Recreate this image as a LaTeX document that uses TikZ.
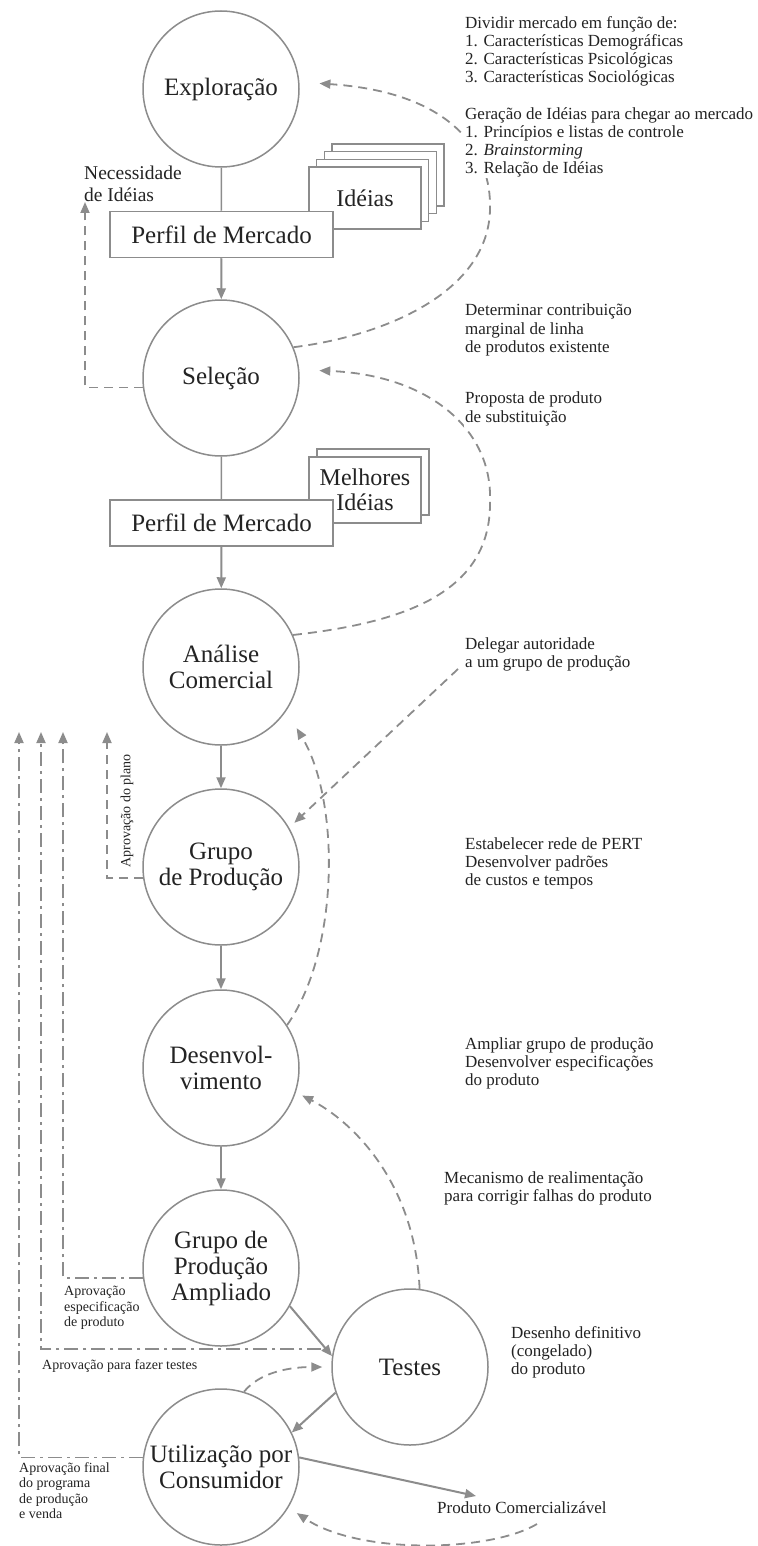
\documentclass[tikz,border=0pt]{standalone}
\usepackage{fontspec}
\setmainfont{Liberation Serif}
\usetikzlibrary{arrows.meta}
\definecolor{ln}{RGB}{140,140,140}
\definecolor{tx}{RGB}{35,35,35}
\begin{document}
\begin{tikzpicture}[x=1pt,y=-1pt,
  stage/.style={circle, draw=ln, line width=1.5pt, minimum size=156pt, inner sep=0pt, align=center, font=\fontsize{25}{26}\selectfont, text=tx, fill=white},
  pbox/.style={draw=ln, line width=1.5pt, fill=white, minimum width=223pt, minimum height=46pt, inner sep=0pt, font=\fontsize{25}{26}\selectfont, text=tx},
  card/.style={draw=ln, line width=1.5pt, fill=white, minimum width=112pt, minimum height=62pt, inner sep=0pt, align=center, font=\fontsize{24}{25}\selectfont, text=tx},
  arr/.style={draw=ln, line width=2pt, -{Triangle[length=11pt,width=9pt]}},
  link/.style={draw=ln, line width=1.5pt},
  dasharr/.style={draw=ln, line width=1.8pt, dash pattern=on 9pt off 6pt, -{Triangle[length=11pt,width=9pt]}},
  ddarr/.style={draw=ln, line width=1.8pt, dash pattern=on 14pt off 5pt on 3pt off 5pt, -{Triangle[length=11pt,width=9pt]}},
  note/.style={align=left, anchor=north west, inner sep=1pt, fill=white, text=tx, font=\fontsize{17}{18.2}\selectfont},
  small/.style={align=left, anchor=north west, inner sep=0pt, text=tx, font=\fontsize{14}{15.5}\selectfont},
]
\useasboundingbox (0,0) rectangle (757,1546);

% stages
\node[stage] (explo) at (221,89) {Exploração};
\node[stage] (selec) at (221,378) {Seleção};
\node[stage] (anal) at (221,667) {Análise\\Comercial};
\node[stage] (grupo) at (221,867) {Grupo\\de Produção};
\node[stage] (desenv) at (221,1068) {Desenvol-\\vimento};
\node[stage] (gampl) at (221,1268) {Grupo de\\Produção\\Ampliado};
\node[stage] (testes) at (410,1367) {Testes};
\node[stage] (util) at (221,1467) {Utilização por\\Consumidor};

% idea cards
\node[card] (c3) at (388.1,175) {};
\node[card] (c2) at (380.4,182.7) {};
\node[card] (c1) at (372.7,190.4) {};
\node[card] (ideias) at (365,198) {Idéias};
\node[pbox] (perf1) at (221.5,234.5) {Perfil de Mercado};

\node[card, minimum height=66pt] (m1) at (373,482) {};
\node[card, minimum height=66pt, font=\fontsize{24}{25}\selectfont] (melh) at (365,490) {Melhores\\Idéias};
\node[pbox] (perf2) at (221.5,523) {Perfil de Mercado};

% main flow
\draw[link] (explo) -- (perf1);
\draw[arr] (perf1) -- (selec);
\draw[link] (selec) -- (perf2);
\draw[arr] (perf2) -- (anal);
\draw[arr] (anal) -- (grupo);
\draw[arr] (grupo) -- (desenv);
\draw[arr] (desenv) -- (gampl);
\draw[arr] (gampl.-29) -- (testes.172);
\draw[arr] (testes.199) -- (util.26);
\coordinate (pc) at (476,1496);
\draw[arr] (util.7) -- (pc);

% dashed feedback curves
\draw[dasharr, shorten >=20pt] (selec.23) .. controls (390,335) and (488,290) .. (490,210) .. controls (492,150) and (450,92) .. (explo.5);
\draw[dasharr, shorten >=20pt] (anal.24) .. controls (410,622) and (492,590) .. (490,500) .. controls (492,430) and (430,375) .. (selec.6);
\coordinate (dl) at (458,669);
\draw[dasharr, shorten >=7pt] (dl) -- (grupo.30);
\draw[dasharr, shorten >=20pt] (desenv.33) .. controls (340,950) and (340,800) .. (anal.-34);
\draw[dasharr, shorten >=7pt] (testes.83) .. controls (415,1180) and (350,1120) .. (desenv.-18);
\draw[dasharr, shorten >=9pt] (util.73) .. controls (260,1372) and (290,1367) .. (testes.180);
\coordinate (pe) at (537,1524);
\draw[dasharr, shorten >=10pt] (pe) .. controls (490,1552) and (360,1555) .. (util.-31);

\coordinate (tN) at (85,202);
\draw[dasharr] (selec.187) -| (tN);

% approval lines
\coordinate (tA) at (19,732);
\coordinate (tB) at (41,732);
\coordinate (tC) at (63,732);
\coordinate (tD) at (107,732);
\draw[ddarr] (util.173) -| (tA);
\draw[ddarr, shorten <=12pt] (testes.167) -| (tB);
\draw[ddarr] (gampl.187) -| (tC);
\draw[dasharr] (grupo.188) -| (tD);

% notes
\node[note] (n1) at (464,15) {Dividir mercado em função de:\\1. Características Demográficas\\2. Características Psicológicas\\3. Características Sociológicas};
\node[note] (n2) at (464,106) {Geração de Idéias para chegar ao mercado\\1. Princípios e listas de controle\\2. \textit{Brainstorming}\\3. Relação de Idéias};
\node[note] (n3) at (464,303) {Determinar contribuição\\marginal de linha\\de produtos existente};
\node[note] (n4) at (464,391) {Proposta de produto\\de substituição};
\node[note] (n5) at (464,636) {Delegar autoridade\\a um grupo de produção};
\node[note] (n6) at (464,836) {Estabelecer rede de PERT\\Desenvolver padrões\\de custos e tempos};
\node[note] (n7) at (464,1036) {Ampliar grupo de produção\\Desenvolver especificações\\do produto};
\node[note] (n8) at (443,1170) {Mecanismo de realimentação\\para corrigir falhas do produto};
\node[note] (n9) at (510,1325) {Desenho definitivo\\(congelado)\\do produto};
\node[note, anchor=west] (prod) at (436,1508) {Produto Comercializável};
\node[note, fill=none, font=\fontsize{19.5}{21.5}\selectfont] (nec) at (83,165) {Necessidade\\de Idéias};

\node[small, anchor=center, rotate=90] (plano) at (127,811) {Aprovação do plano};
\node[small] (ap1) at (64,1286) {Aprovação\\especificação\\de produto};
\node[small, anchor=west] (ap2) at (42,1366) {Aprovação para fazer testes};
\node[small] (ap3) at (19,1462) {Aprovação final\\do programa\\de produção\\e venda};
\end{tikzpicture}
\end{document}
